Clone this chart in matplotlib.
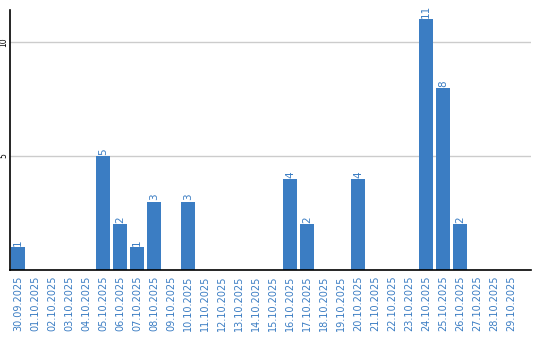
import matplotlib
matplotlib.use("Agg")
import matplotlib.pyplot as plt
import numpy as np

# daily counts, 30.09.2025 - 29.10.2025
dates = ["30.09.2025"] + ["%02d.10.2025" % d for d in range(1, 30)]
counts = [1, 0, 0, 0, 0, 5, 2, 1, 3, 0,
          3, 0, 0, 0, 0, 0, 4, 2, 0, 0,
          4, 0, 0, 0, 11, 8, 2, 0, 0, 0]
yticks = [5, 10]

blue = "#3b7dc3"

fig = plt.figure(figsize=(5.4, 3.4), dpi=100)
ax = fig.add_axes([0.0185, 0.206, 0.965, 0.764])

x = np.arange(len(dates))
bars = ax.bar(x, counts, width=0.82, color=blue, zorder=2)

for xi, c in zip(x, counts):
    if c > 0:
        ax.text(xi, c + 0.05, str(c), rotation=90, ha="center", va="bottom",
                color=blue, fontsize=7.5)

ax.set_xlim(-0.47, 30.18)
ax.set_ylim(0, 11.4)
ax.set_xticks(x)
ax.set_xticklabels(dates, rotation=90, color=blue, fontsize=7)
ax.set_yticks(yticks)
ax.set_yticklabels([str(v) for v in yticks], rotation=90, va="center", fontsize=5.5)
ax.tick_params(length=0)
ax.tick_params(axis="x", pad=4)
ax.tick_params(axis="y", pad=1)
ax.yaxis.grid(True, color="#cccccc", linewidth=1, zorder=0)

for s in ["top", "right"]:
    ax.spines[s].set_visible(False)
ax.spines["left"].set_linewidth(1.2)
ax.spines["bottom"].set_linewidth(1.2)

fig.savefig("out.png", dpi=100)
